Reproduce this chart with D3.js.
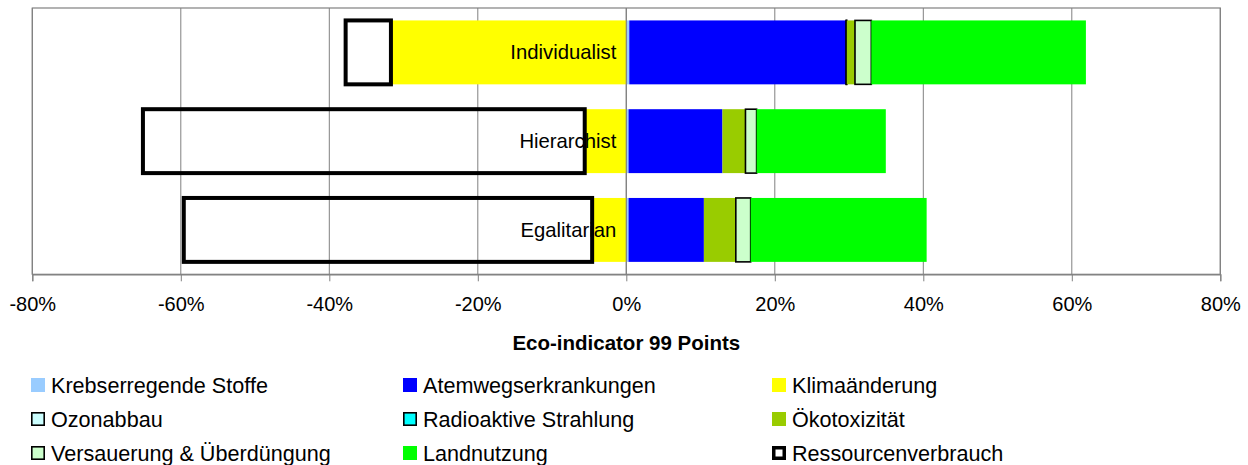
<!DOCTYPE html>
<html><head><meta charset="utf-8">
<script src="https://cdn.jsdelivr.net/npm/d3@7"></script>
<style>body{margin:0;background:#fff}svg{display:block;font-family:"Liberation Sans",Arial,sans-serif}</style>
</head><body><svg id="c" width="1248" height="465"></svg>
<script>
const categories = ["Individualist", "Hierarchist", "Egalitarian"];
const seriesNames = ["Krebserregende Stoffe", "Atemwegserkrankungen", "Klimaänderung", "Ozonabbau", "Radioaktive Strahlung", "Ökotoxizität", "Versauerung & Überdüngung", "Landnutzung", "Ressourcenverbrauch"];
const krebs = [0.4, 0.3, 0.3];
const atemweg = [29.2, 12.65, 10.15];
const klima = [-31.7, -5.6, -4.6];
const ozon = [0.05, 0, 0];
const radio = [0.05, 0, 0];
const oekotox = [1.1, 3.1, 4.3];
const versauerung = [2.2, 1.5, 2.0];
const landnutzung = [28.9, 17.4, 23.7];
const ressourcen = [-6.1, -59.5, -55.0];
const tickValues = [-80, -60, -40, -20, 0, 20, 40, 60, 80];

const seriesValues = [krebs, atemweg, klima, ozon, radio, oekotox, versauerung, landnutzung, ressourcen];
const fills = ["#99CCFF", "#0000FF", "#FFFF00", "#CCFFFF", "#00FFFF", "#99CC00", "#CCFFCC", "#00FF00", "none"];
const strokes = [null, null, null, "#000", "#000", null, "#000", null, "#000"];
const strokeW = [0, 0, 0, 1.6, 1.6, 0, 1.6, 0, 4];

const rows = categories.map((c, i) => {
  const r = {cat: c};
  seriesNames.forEach((s, j) => r[s] = seriesValues[j][i]);
  return r;
});
const stacked = d3.stack().keys(seriesNames).offset(d3.stackOffsetDiverging)(rows);

const svg = d3.select("#c");
const L = 32.3, R = 1220.3, T = 8, B = 274.3;
const x = d3.scaleLinear().domain([-80, 80]).range([L, R]);
const y = d3.scaleBand().domain(categories).range([T, B]).paddingInner(0.28).paddingOuter(0.14);

// gridlines
svg.append("g").selectAll("line").data(tickValues).join("line")
  .attr("x1", d => x(d)).attr("x2", d => x(d)).attr("y1", T).attr("y2", B)
  .attr("stroke", "#808080").attr("stroke-width", 1);
svg.append("rect").attr("x", L).attr("y", T).attr("width", R - L).attr("height", B - T)
  .attr("fill", "none").attr("stroke", "#808080").attr("stroke-width", 1.2);

// bars
const gBars = svg.append("g");
stacked.forEach((s, j) => {
  if (j === 8) return;
  gBars.append("g").selectAll("rect").data(s.filter(d => d[1] !== d[0])).join("rect")
    .attr("x", d => x(Math.min(d[0], d[1])))
    .attr("width", d => Math.abs(x(d[1]) - x(d[0])))
    .attr("y", d => y(d.data.cat)).attr("height", y.bandwidth())
    .attr("fill", fills[j])
    .attr("stroke", strokes[j]).attr("stroke-width", strokeW[j]);
});

// zero line
svg.append("line").attr("x1", x(0)).attr("x2", x(0)).attr("y1", T).attr("y2", B)
  .attr("stroke", "#808080").attr("stroke-width", 1.2);

// category labels
svg.append("g").selectAll("text").data(categories).join("text")
  .attr("x", x(0) - 10).attr("y", d => y(d) + y.bandwidth() / 2)
  .attr("dy", "0.35em").attr("text-anchor", "end")
  .attr("font-size", 20.3).attr("fill", "#000").text(d => d);

// Ressourcenverbrauch boxes on top
svg.append("g").selectAll("rect").data(stacked[8]).join("rect")
  .attr("x", d => x(Math.min(d[0], d[1])))
  .attr("width", d => Math.abs(x(d[1]) - x(d[0])))
  .attr("y", d => y(d.data.cat)).attr("height", y.bandwidth())
  .attr("fill", "none").attr("stroke", "#000").attr("stroke-width", 4);

// axis
const axis = d3.axisBottom(x).tickValues(tickValues).tickSize(7).tickPadding(16)
  .tickFormat(d => d + "%");
const ga = svg.append("g").attr("transform", `translate(0,${B})`).call(axis);
ga.select(".domain").attr("stroke", "#808080").attr("stroke-width", 1.2);
ga.selectAll(".tick line").attr("stroke", "#808080");
ga.selectAll(".tick text").attr("font-size", 20).attr("fill", "#000")
  .attr("font-family", "Liberation Sans, Arial, sans-serif");

svg.append("text").attr("x", x(0)).attr("y", 343).attr("dy", "0.35em")
  .attr("text-anchor", "middle").attr("font-weight", "bold").attr("font-size", 20.5)
  .text("Eco-indicator 99 Points");

// legend
const colX = [31, 403, 772];
const rowY = [385, 419, 453];
const lg = svg.append("g");
seriesNames.forEach((s, j) => {
  const cx = colX[j % 3], cy = rowY[Math.floor(j / 3)];
  const g = lg.append("g").attr("transform", `translate(${cx},${cy})`);
  const sw = strokeW[j] ? Math.min(strokeW[j], 3.5) : 0;
  g.append("rect").attr("x", sw / 2).attr("y", -7 + sw / 2).attr("width", 14 - sw).attr("height", 14 - sw)
    .attr("fill", j === 8 ? "#fff" : fills[j])
    .attr("stroke", strokes[j]).attr("stroke-width", sw);
  g.append("text").attr("x", 20).attr("y", 0).attr("dy", "0.35em")
    .attr("font-size", 21.6).text(s);
});
</script></body></html>
